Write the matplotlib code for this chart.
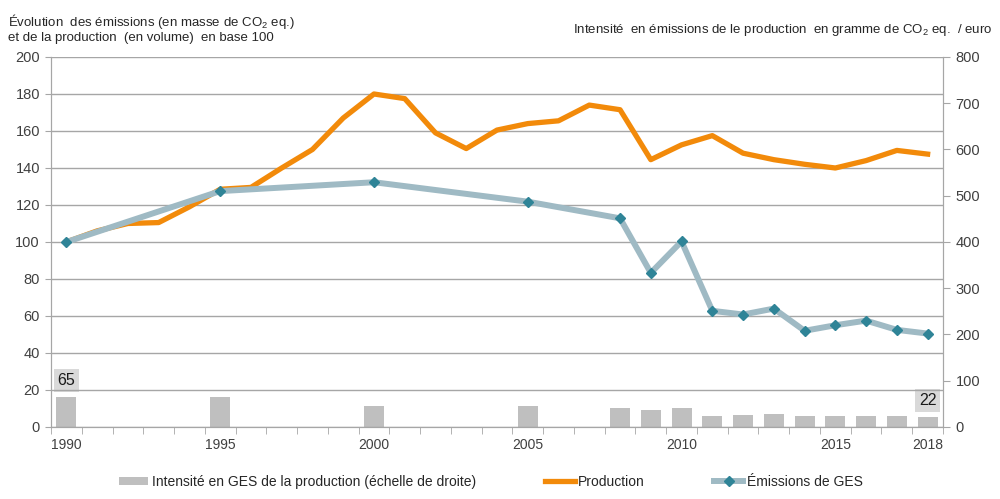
import matplotlib
matplotlib.use("Agg")
import matplotlib.pyplot as plt
from matplotlib.patches import Patch
from matplotlib.lines import Line2D
import numpy as np

plt.rcParams['font.family'] = ['Liberation Sans', 'DejaVu Sans']

years = list(range(1990, 2019))
production = [100, 106, 110, 110.5, 119, 128.5, 129.5, 140, 150, 167, 180, 177.5, 159, 150.5,
              160.5, 164, 165.5, 174, 171.5, 144.5, 152.5, 157.5, 148, 144.5, 142, 140, 144, 149.5, 147.5]
emissions = [100, None, None, None, None, 127.5, None, None, None, None, 132.3, None, None, None,
             None, 121.8, None, None, 112.8, 83.3, 100.3, 62.8, 60.8, 64, 52, 55, 57.5, 52.5, 50.5]
intensity = [65, None, None, None, None, 65, None, None, None, None, 46, None, None, None,
             None, 46, None, None, 42, 37, 42, 24, 26, 28, 23, 24, 24, 23, 22]
xtick_labels = ['1990', '1995', '2000', '2005', '2010', '2015', '2018']
labelled_years = [1990, 2018]

c_orange = '#F28A0A'
c_line = '#9FBAC4'
c_marker = '#2F8497'
c_bar = '#BFBFBF'
c_grid = '#A6A6A6'
c_text = '#404040'

fig = plt.figure(figsize=(10, 4.99), dpi=100)
ax = fig.add_axes([0.051, 0.1443, 0.892, 0.7415])
ax2 = ax.twinx()
ax.set_zorder(ax2.get_zorder() + 1)
ax.patch.set_visible(False)

idx = np.arange(len(years))

# bars on the right scale
bx = [i for i, v in zip(idx, intensity) if v is not None]
bv = [v for v in intensity if v is not None]
ax2.bar(bx, bv, width=0.65, color=c_bar, zorder=2)
ax2.set_ylim(0, 800)
ax2.set_yticks(np.arange(0, 801, 100))
for y, v in zip(years, intensity):
    if y in labelled_years:
        i = years.index(y)
        ax2.annotate(str(v), (i, v), xytext=(0, 11.5), textcoords='offset points',
                     ha='center', va='center', fontsize=11.5, color='#1a1a1a',
                     bbox=dict(boxstyle='square,pad=0.25', fc='#D9D9D9', ec='none'))

# lines on the left scale
ax.plot(idx, production, color=c_orange, lw=3.8, solid_joinstyle='round', zorder=3)
ex = [i for i, v in zip(idx, emissions) if v is not None]
ev = [v for v in emissions if v is not None]
ax.plot(ex, ev, color=c_line, lw=4.3, marker='D', markersize=5, markerfacecolor=c_marker,
        markeredgecolor=c_marker, solid_joinstyle='round', zorder=4)

ax.set_ylim(0, 200)
ax.set_yticks(np.arange(0, 201, 20))
ax.set_xlim(-0.5, len(years) - 0.5)
ax.yaxis.grid(True, color=c_grid, lw=1)
ax.set_axisbelow(True)

xt = [years.index(int(l)) for l in xtick_labels]
ax.set_xticks(xt)
ax.set_xticklabels(xtick_labels)
ax.set_xticks(np.arange(-0.5, len(years)), minor=True)
ax.tick_params(axis='x', which='major', length=0, pad=8, labelsize=10, labelcolor=c_text)
ax.tick_params(axis='x', which='minor', length=5, color=c_grid, direction='out')
ax.tick_params(axis='y', length=4, color=c_grid, labelsize=10.5, labelcolor=c_text, pad=4)
ax2.tick_params(axis='y', length=5, color=c_grid, labelsize=10.5, labelcolor=c_text, pad=4)
ax2.set_xlim(-0.5, len(years) - 0.5)

for a in (ax, ax2):
    a.spines['top'].set_visible(False)
    a.spines['left'].set_color(c_grid)
    a.spines['right'].set_color(c_grid)
    a.spines['bottom'].set_color(c_grid)

fig.text(0.008, 0.975, r'Évolution  des émissions (en masse de $\mathregular{CO_2}$ eq.)',
         fontsize=9.5, color='#262626', va='top', ha='left')
fig.text(0.008, 0.935, 'et de la production  (en volume)  en base 100',
         fontsize=9.5, color='#262626', va='top', ha='left')
fig.text(0.992, 0.955, r'Intensité  en émissions de le production  en gramme de $\mathregular{CO_2}$ eq.  / euro',
         fontsize=9.5, color='#262626', va='top', ha='right')

handles = [Patch(facecolor=c_bar, edgecolor='none'),
           Line2D([], [], color=c_orange, lw=3.8),
           Line2D([], [], color=c_line, lw=4.3, marker='D', markersize=5,
                  markerfacecolor=c_marker, markeredgecolor=c_marker)]
labels = ['Intensité en GES de la production (échelle de droite)', 'Production', 'Émissions de GES']
leg = fig.legend(handles, labels, loc='center', bbox_to_anchor=(0.491, 0.035), ncol=3,
                 frameon=False, fontsize=10, handlelength=2.1, handleheight=0.5,
                 handletextpad=0.25, columnspacing=5.0)
for t in leg.get_texts():
    t.set_color('#262626')

fig.savefig('out.png', dpi=100)
